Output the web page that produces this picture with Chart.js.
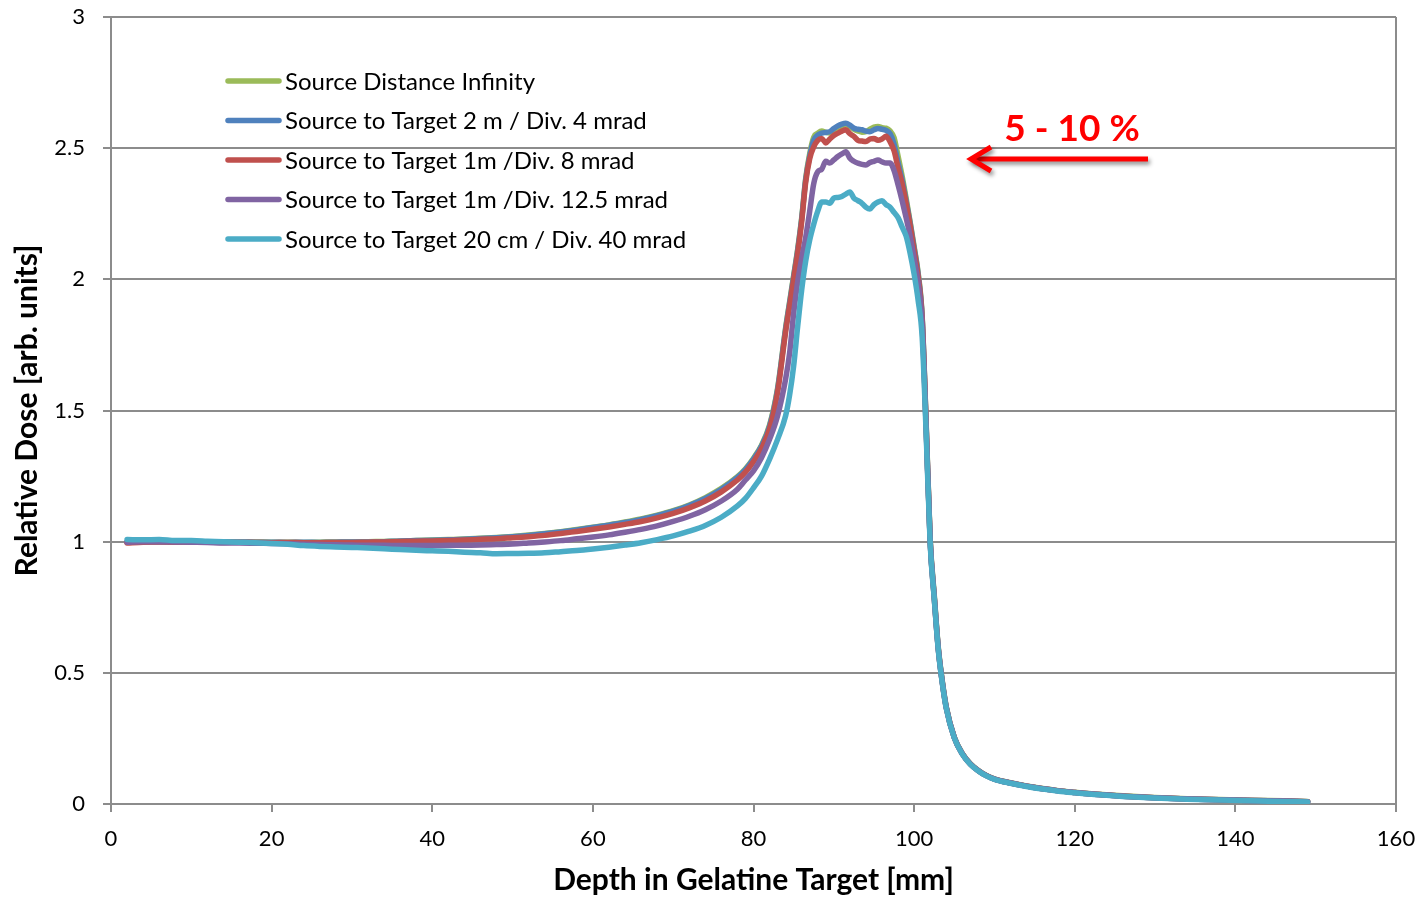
<!DOCTYPE html>
<html>
<head>
<meta charset="utf-8">
<script src="https://cdn.jsdelivr.net/npm/chart.js@4.4.0/dist/chart.umd.min.js"></script>
<style>
html,body{margin:0;padding:0;background:#ffffff;}
#wrap{position:relative;width:1423px;height:898px;}
</style>
</head>
<body>
<div id="wrap"><canvas id="c" width="1423" height="898"></canvas></div>
<script>
// ---------- data ----------
const depth = [2,4,6,8,10,12,14,16,18,20,22,24,26,28,30,32,34,36,38,40,42,44,46,48,50,52,54,56,58,60,62,64,66,68,70,72,74,76,
  78,79,80,81,82,83,84,
  84.5,85,85.5,86,86.5,87,87.5,88,88.5,89,89.5,90,90.5,91,91.5,92,92.5,93,93.5,94,94.5,95,95.5,96,96.5,97,97.5,98,98.5,99,99.5,100,100.5,101,101.5,102,102.5,103,103.5,104,
  105,106,107,108,109,110,112,114,116,118,120,123,126,130,134,138,142,146,149];

const doseInfinity = [0.998,1.001,1.001,1.0,0.999,1.0,0.999,0.998,0.999,0.998,0.998,0.997,0.998,0.999,0.999,1.0,1.001,1.002,1.004,1.006,1.008,1.01,1.013,1.016,1.02,1.025,1.031,1.038,1.046,1.055,1.064,1.075,1.087,1.101,1.118,1.14,1.168,1.203,
  1.248,1.278,1.318,1.368,1.445,1.585,1.815,
  1.915,2.015,2.115,2.235,2.385,2.48,2.542,2.557,2.565,2.56,2.558,2.568,2.578,2.585,2.59,2.582,2.572,2.566,2.561,2.563,2.572,2.58,2.583,2.578,2.576,2.566,2.54,2.47,2.395,2.31,2.22,2.125,2.025,1.86,1.45,1.01,0.8,0.6,0.47,0.371,
  0.255,0.193,0.154,0.128,0.109,0.096,0.081,0.069,0.059,0.051,0.045,0.037,0.031,0.025,0.02,0.017,0.014,0.012,0.01];

const dose2m4mrad = [1.0,1.002,1.0,0.999,1.0,0.999,0.998,0.999,0.998,0.998,0.997,0.998,0.997,0.998,0.999,0.999,1.0,1.003,1.004,1.005,1.007,1.009,1.012,1.015,1.019,1.024,1.03,1.037,1.045,1.054,1.063,1.073,1.085,1.099,1.116,1.138,1.165,1.2,
  1.245,1.275,1.315,1.365,1.44,1.58,1.81,
  1.91,2.01,2.11,2.23,2.38,2.47,2.53,2.55,2.557,2.56,2.563,2.575,2.585,2.592,2.595,2.588,2.576,2.572,2.57,2.565,2.563,2.57,2.575,2.572,2.568,2.555,2.515,2.445,2.38,2.3,2.215,2.12,2.02,1.855,1.445,1.005,0.795,0.597,0.468,0.37,
  0.254,0.192,0.153,0.127,0.108,0.095,0.08,0.068,0.058,0.05,0.044,0.036,0.03,0.024,0.019,0.016,0.013,0.011,0.009];

const dose1m8mrad = [0.995,0.998,0.999,0.998,0.999,0.998,0.997,0.998,0.997,0.996,0.997,0.996,0.996,0.997,0.997,0.998,0.999,1.001,1.002,1.003,1.004,1.006,1.009,1.011,1.015,1.019,1.024,1.031,1.039,1.047,1.056,1.066,1.077,1.091,1.108,1.129,1.155,1.19,
  1.235,1.265,1.305,1.355,1.43,1.57,1.8,
  1.9,2.0,2.1,2.22,2.37,2.46,2.505,2.53,2.537,2.52,2.535,2.548,2.557,2.565,2.57,2.555,2.545,2.53,2.527,2.525,2.535,2.537,2.53,2.535,2.545,2.525,2.49,2.425,2.365,2.29,2.205,2.11,2.01,1.85,1.44,1.0,0.79,0.595,0.466,0.368,
  0.253,0.191,0.152,0.127,0.108,0.095,0.08,0.068,0.058,0.05,0.044,0.036,0.03,0.024,0.019,0.016,0.013,0.011,0.009];

const dose1m125mrad = [0.998,1.0,1.0,0.999,0.998,0.997,0.995,0.995,0.994,0.993,0.992,0.99,0.989,0.988,0.987,0.986,0.986,0.985,0.985,0.985,0.986,0.986,0.987,0.989,0.991,0.995,0.999,1.004,1.011,1.018,1.026,1.036,1.047,1.06,1.077,1.097,1.122,1.155,
  1.2,1.235,1.27,1.32,1.39,1.48,1.62,
  1.72,1.87,1.99,2.08,2.16,2.26,2.365,2.41,2.42,2.45,2.443,2.455,2.468,2.478,2.486,2.462,2.45,2.443,2.438,2.436,2.445,2.45,2.455,2.448,2.443,2.443,2.415,2.36,2.3,2.235,2.165,2.08,1.985,1.83,1.43,0.998,0.788,0.593,0.465,0.367,
  0.253,0.191,0.152,0.127,0.108,0.095,0.08,0.068,0.058,0.05,0.044,0.036,0.03,0.024,0.019,0.016,0.013,0.011,0.009];

const dose20cm40mrad = [1.008,1.007,1.008,1.004,1.004,1.002,1.0,0.998,0.996,0.993,0.99,0.985,0.982,0.98,0.978,0.976,0.973,0.97,0.967,0.965,0.963,0.96,0.958,0.954,0.955,0.956,0.958,0.962,0.966,0.972,0.979,0.987,0.996,1.008,1.022,1.04,1.062,1.093,
  1.136,1.165,1.205,1.25,1.315,1.39,1.48,
  1.56,1.67,1.82,1.96,2.07,2.15,2.21,2.26,2.295,2.295,2.29,2.31,2.312,2.316,2.325,2.333,2.31,2.3,2.29,2.275,2.268,2.285,2.295,2.3,2.285,2.275,2.255,2.235,2.2,2.165,2.1,2.02,1.92,1.78,1.41,0.99,0.785,0.59,0.463,0.365,
  0.252,0.19,0.151,0.126,0.107,0.094,0.079,0.067,0.057,0.049,0.043,0.035,0.029,0.023,0.018,0.015,0.012,0.01,0.008];

const seriesLabels = [
  'Source Distance Infinity',
  'Source to Target 2 m / Div. 4 mrad',
  'Source to Target 1m /Div. 8 mrad',
  'Source to Target 1m /Div. 12.5 mrad',
  'Source to Target 20 cm / Div. 40 mrad'
];
const seriesColors = ['#9BBB59','#4F81BD','#C0504D','#8064A2','#4BACC6'];
const seriesValues = [doseInfinity, dose2m4mrad, dose1m8mrad, dose1m125mrad, dose20cm40mrad];

const xTickLabels = ['0','20','40','60','80','100','120','140','160'];
const yTickLabels = ['0','0.5','1','1.5','2','2.5','3'];
const xTitle = 'Depth in Gelatine Target [mm]';
const yTitle = 'Relative Dose [arb. units]';
const annotationText = '5 - 10 %';

// ---------- chart ----------
const GRID = '#8c8c8c';
const FONT = 'Lato';

const datasets = seriesValues.map((vals, i) => ({
  label: seriesLabels[i],
  data: depth.map((d, k) => ({x: d, y: vals[k]})),
  borderColor: seriesColors[i],
  backgroundColor: seriesColors[i],
  borderWidth: 5.5,
  pointRadius: 0,
  pointHoverRadius: 0,
  fill: false,
  cubicInterpolationMode: 'monotone',
  borderCapStyle: 'round',
  borderJoinStyle: 'round',
  order: seriesValues.length - i
}));

const overlay = {
  id: 'overlay',
  afterDraw(chart) {
    const ctx = chart.ctx;
    ctx.save();
    // legend
    ctx.font = '24px ' + FONT;
    ctx.textBaseline = 'middle';
    ctx.textAlign = 'left';
    seriesLabels.forEach((lab, i) => {
      const y = 81 + i * 39.5;
      ctx.strokeStyle = seriesColors[i];
      ctx.lineWidth = 5.5;
      ctx.lineCap = 'round';
      ctx.beginPath();
      ctx.moveTo(228, y);
      ctx.lineTo(279, y);
      ctx.stroke();
      ctx.fillStyle = '#000';
      ctx.fillText(lab, 285, y + 1);
    });
    // annotation text
    ctx.font = 'bold 37px ' + FONT;
    ctx.fillStyle = '#FF0000';
    ctx.textAlign = 'center';
    ctx.textBaseline = 'middle';
    ctx.fillText(annotationText, 1072, 129);
    // arrow with shadow
    ctx.shadowColor = 'rgba(0,0,0,0.45)';
    ctx.shadowBlur = 4;
    ctx.shadowOffsetX = 2;
    ctx.shadowOffsetY = 3;
    ctx.strokeStyle = '#FF0000';
    ctx.lineWidth = 5;
    ctx.lineCap = 'butt';
    ctx.lineJoin = 'miter';
    ctx.beginPath();
    ctx.moveTo(1148, 159);
    ctx.lineTo(972, 159);
    ctx.stroke();
    ctx.beginPath();
    ctx.moveTo(991, 147);
    ctx.lineTo(971, 159);
    ctx.lineTo(991, 171);
    ctx.stroke();
    ctx.restore();
  }
};

new Chart(document.getElementById('c'), {
  type: 'line',
  data: { datasets },
  options: {
    responsive: false,
    animation: false,
    devicePixelRatio: 1,
    layout: { padding: { left: 0, right: 27, top: 17, bottom: 0 } },
    plugins: { legend: { display: false }, tooltip: { enabled: false } },
    scales: {
      x: {
        type: 'linear',
        min: 0, max: 160,
        afterFit: s => { s.height = 94; s.paddingLeft = 0; s.paddingRight = 0; },
        ticks: {
          stepSize: 20, maxRotation: 0, autoSkip: false,
          color: '#000', padding: 14,
          font: { family: FONT, size: 22 },
          callback: (v) => xTickLabels[Math.round(v / 20)]
        },
        grid: {
          color: ctx => (ctx.tick && ctx.tick.value === 160) ? GRID : 'rgba(0,0,0,0)',
          tickColor: GRID, lineWidth: 2, tickLength: 8, drawOnChartArea: true
        },
        border: { display: true, color: GRID, width: 2 },
        title: {
          display: true, text: xTitle, color: '#000',
          font: { family: FONT, size: 30, weight: 'bold' },
          padding: { top: 0, bottom: 0 }
        }
      },
      y: {
        type: 'linear',
        min: 0, max: 3,
        afterFit: s => { s.width = 111; s.paddingTop = 0; s.paddingBottom = 0; },
        ticks: {
          stepSize: 0.5, color: '#000', padding: 18,
          font: { family: FONT, size: 22 },
          callback: (v) => yTickLabels[Math.round(v * 2)]
        },
        grid: { color: GRID, tickColor: GRID, lineWidth: 2, tickLength: 8 },
        border: { display: true, color: GRID, width: 2 },
        title: {
          display: true, text: yTitle, color: '#000',
          font: { family: FONT, size: 30, weight: 'bold' },
          padding: { top: 9, bottom: 0 }
        }
      }
    }
  },
  plugins: [overlay]
});
</script>
</body>
</html>
